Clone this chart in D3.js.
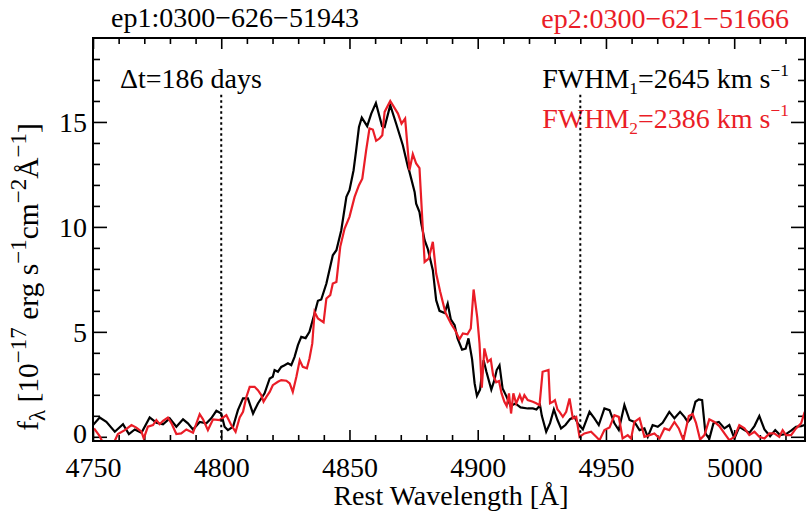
<!DOCTYPE html>
<html>
<head>
<meta charset="utf-8">
<script src="https://cdn.jsdelivr.net/npm/d3@7"></script>
<style>
  body { margin: 0; background: #ffffff; }
  svg text { font-family: "Liberation Serif", "DejaVu Serif", serif; }
</style>
</head>
<body>
<div id="chart"></div>
<script>
// ep1 : [rest wavelength (A), flux (1e-17 erg/s/cm2/A)]
const ep1 = [
  [4750.0,0.56],[4752.6,0.92],[4755.2,0.71],[4758.5,0.24],[4761.7,0.6],[4764.0,0.13],[4766.3,0.35],[4768.9,0.19],[4772.1,0.92],[4774.7,0.67],
  [4777.3,0.6],[4779.9,0.88],[4782.5,0.48],[4785.1,0.83],[4787.0,0.64],[4789.0,0.35],[4791.6,0.71],[4794.2,0.64],[4796.1,0.88],[4798.1,1.24],
  [4800.0,1.11],[4801.3,0.48],[4802.6,0.32],[4804.6,0.48],[4806.5,1.27],[4808.5,1.83],[4810.4,1.83],[4812.4,1.11],[4814.3,1.59],[4816.9,2.07],
  [4818.9,2.78],[4820.1,2.86],[4820.8,3.18],[4822.1,3.1],[4823.4,3.33],[4824.7,3.41],[4826.0,3.5],[4827.3,3.41],[4828.6,3.81],[4829.9,4.37],
  [4831.2,4.76],[4832.9,4.7],[4834.4,5.0],[4836.4,5.88],[4837.7,6.48],[4839.0,6.54],[4841.0,7.3],[4843.5,8.65],[4844.9,8.89],[4846.8,9.84],
  [4848.8,11.43],[4850.0,11.75],[4851.6,12.7],[4852.6,13.65],[4853.7,14.76],[4854.8,15.21],[4856.9,14.8],[4858.5,15.4],[4860.3,15.9],[4862.7,14.8],
  [4863.7,14.76],[4865.9,15.8],[4868.3,14.88],[4870.8,13.89],[4872.8,12.86],[4873.4,12.62],[4875.4,11.67],[4876.0,11.11],[4877.3,10.71],[4878.0,10.16],
  [4879.3,9.37],[4880.5,8.97],[4882.5,7.94],[4883.8,6.51],[4885.1,6.0],[4887.1,5.9],[4888.3,6.35],[4889.5,5.6],[4891.0,5.32],[4892.1,4.7],
  [4893.9,4.15],[4895.3,4.2],[4896.4,4.69],[4897.8,3.7],[4898.8,2.54],[4899.7,1.95],[4900.9,2.25],[4902.3,3.65],[4903.4,3.1],[4905.3,2.25],
  [4906.5,2.7],[4907.4,3.18],[4908.5,3.41],[4909.7,2.3],[4911.1,1.95],[4912.8,1.47],[4914.7,1.59],[4916.7,1.4],[4919.5,1.35],[4921.5,1.35],
  [4922.9,1.3],[4924.3,1.5],[4925.0,1.0],[4926.7,0.24],[4928.2,0.65],[4929.7,1.3],[4931.1,0.8],[4932.5,0.4],[4934.2,0.56],[4936.0,0.84],
  [4937.7,0.95],[4939.0,0.64],[4941.0,0.35],[4943.6,1.19],[4945.5,0.88],[4947.2,0.56],[4949.4,1.35],[4951.4,1.27],[4953.3,0.64],[4955.0,0.32],
  [4957.2,1.51],[4959.2,0.8],[4961.1,0.71],[4963.1,0.32],[4965.0,0.4],[4966.3,0.0],[4968.2,0.56],[4970.2,0.48],[4972.1,0.67],[4974.7,1.19],
  [4976.7,0.88],[4978.9,1.19],[4980.6,0.95],[4981.9,0.71],[4983.2,0.88],[4984.9,1.67],[4986.2,1.78],[4987.5,1.75],[4988.8,0.16],[4990.3,-0.1],
  [4991.9,0.64],[4994.0,0.71],[4996.2,0.4],[4998.1,0.56],[5000.1,-0.08],[5002.0,0.48],[5004.0,0.32],[5005.9,0.19],[5007.9,0.51],[5009.8,0.99],
  [5011.8,0.35],[5014.0,0.03],[5016.0,0.32],[5017.9,0.08],[5020.2,0.13],[5022.2,0.29],[5024.1,0.48],[5026.1,0.51],[5027.5,0.56]
];

// ep2
const ep2 = [
  [4750.4,0.4],[4752.6,0.03],[4753.9,-0.3],[4755.9,-0.6],[4758.5,-0.19],[4759.7,0.13],[4762.4,0.32],[4765.0,0.56],[4766.9,0.44],[4768.9,0.24],
  [4769.8,-0.08],[4771.4,0.48],[4773.4,0.56],[4774.7,0.8],[4776.0,0.6],[4777.3,0.76],[4779.2,0.92],[4780.6,0.64],[4782.5,0.13],[4784.4,0.16],
  [4786.4,0.35],[4789.0,0.19],[4791.6,1.08],[4792.9,0.83],[4794.8,0.32],[4796.8,0.83],[4799.4,0.8],[4802.0,1.03],[4803.9,0.56],[4805.6,0.24],
  [4807.2,0.92],[4808.5,1.19],[4809.8,1.9],[4811.1,2.38],[4813.0,2.38],[4814.3,2.22],[4815.6,1.99],[4816.5,1.67],[4817.6,1.9],[4818.9,2.14],
  [4820.1,2.46],[4822.1,2.62],[4823.4,2.7],[4825.4,2.67],[4826.7,2.54],[4827.9,2.14],[4829.3,2.86],[4830.6,3.65],[4831.8,3.33],[4833.4,3.26],
  [4834.4,3.73],[4835.5,4.45],[4836.4,5.95],[4837.7,5.64],[4839.9,5.45],[4841.0,6.59],[4842.5,6.75],[4843.5,7.3],[4844.9,7.38],[4846.4,9.05],
  [4848.1,9.92],[4850.0,10.48],[4852.0,11.43],[4853.7,11.99],[4855.0,12.3],[4856.5,13.65],[4857.8,14.69],[4859.1,14.64],[4860.4,14.1],[4861.7,14.21],
  [4862.8,14.37],[4863.7,15.48],[4865.9,16.0],[4868.9,15.4],[4870.3,14.92],[4871.7,15.16],[4873.4,12.7],[4874.7,13.47],[4876.0,13.02],[4877.3,12.8],
  [4879.3,8.33],[4880.9,8.49],[4882.5,9.29],[4883.8,7.78],[4885.4,6.9],[4887.4,5.92],[4889.7,5.36],[4891.2,5.08],[4892.9,4.65],[4894.2,4.92],
  [4896.0,4.88],[4897.3,5.16],[4898.4,7.02],[4899.8,5.7],[4900.7,4.45],[4901.6,2.34],[4902.6,4.21],[4903.9,3.57],[4905.1,3.69],[4906.0,2.94],
  [4907.2,2.6],[4908.3,2.66],[4909.3,2.07],[4910.4,1.67],[4911.3,1.47],[4912.2,2.07],[4913.0,1.11],[4913.9,2.07],[4915.0,1.59],[4916.4,1.99],
  [4917.3,1.7],[4918.2,1.99],[4919.5,1.75],[4921.5,1.67],[4922.8,1.6],[4924.1,1.51],[4925.3,3.1],[4927.6,3.18],[4928.2,1.6],[4929.3,1.67],
  [4930.1,1.75],[4931.1,1.3],[4931.9,1.19],[4933.2,0.95],[4934.5,1.19],[4935.8,1.83],[4937.1,0.88],[4938.4,0.95],[4939.7,0.0],[4941.6,0.16],
  [4944.2,0.24],[4946.2,0.0],[4947.5,-0.16],[4949.4,0.32],[4951.4,0.44],[4953.3,1.03],[4955.0,0.95],[4956.5,-0.08],[4958.5,0.08],[4959.8,-0.08],
  [4961.1,0.71],[4963.1,0.88],[4965.0,0.0],[4967.0,0.08],[4968.9,0.16],[4970.9,-0.08],[4972.8,0.4],[4974.7,0.32],[4976.7,0.71],[4978.4,0.4],
  [4980.2,-0.16],[4982.3,0.99],[4983.8,1.08],[4985.1,0.67],[4986.7,-0.13],[4988.4,0.08],[4990.3,0.83],[4992.3,0.71],[4994.2,0.51],[4996.2,0.16],
  [4998.1,-0.16],[5000.1,0.0],[5002.0,0.56],[5004.0,0.4],[5005.9,0.08],[5007.9,0.24],[5009.8,0.0],[5011.8,-0.08],[5013.7,0.16],[5015.6,0.16],
  [5017.6,0.0],[5018.9,0.32],[5020.2,0.08],[5022.2,0.08],[5024.1,0.4],[5026.1,0.64],[5027.5,1.19]
];

const xMajor = [4750, 4800, 4850, 4900, 4950, 5000];
const xMinor = [4760,4770,4780,4790,4810,4820,4830,4840,4860,4870,4880,4890,4910,4920,4930,4940,4960,4970,4980,4990,5010,5020];
const yMajor = [0, 5, 10, 15];
const yMinor = [1,2,3,4,6,7,8,9,11,12,13,14,16,17,18];
const markerWave = [4800, 4940];   // dotted window
const markerTop = 16.3;

const black = "#000000";
const red = "#ea1d27";
const fs = 28;

const W = 806, H = 512;
const pLeft = 93, pTop = 38, pRight = 805, pBottom = 441;

const svg = d3.select("#chart").append("svg")
  .attr("width", W).attr("height", H);

const x = d3.scaleLinear().domain([4750, 5028]).range([pLeft, 806]);
const y = d3.scaleLinear().domain([-0.2, 19]).range([pBottom, pTop]);

svg.append("defs").append("clipPath").attr("id", "plot")
  .append("rect").attr("x", pLeft).attr("y", pTop)
  .attr("width", pRight - pLeft).attr("height", pBottom - pTop);

// ticks
function styleAxis(g) {
  g.select(".domain").remove();
  g.selectAll(".tick line").attr("stroke", black).attr("stroke-width", 1.6);
  g.selectAll(".tick text").style("font-size", fs + "px").attr("fill", black);
}

svg.append("g").attr("transform", `translate(0,${pBottom})`)
  .call(d3.axisBottom(x).tickValues(xMajor).tickSize(-11).tickFormat(d3.format("d")))
  .call(styleAxis)
  .call(g => g.selectAll(".tick text").attr("y", 36).attr("dy", null));
svg.append("g").attr("transform", `translate(0,${pBottom})`)
  .call(d3.axisBottom(x).tickValues(xMinor).tickSize(-6).tickFormat(""))
  .call(styleAxis);
svg.append("g").attr("transform", `translate(0,${pTop})`)
  .call(d3.axisTop(x).tickValues(xMajor).tickSize(-11).tickFormat(""))
  .call(styleAxis);
svg.append("g").attr("transform", `translate(0,${pTop})`)
  .call(d3.axisTop(x).tickValues(xMinor).tickSize(-6).tickFormat(""))
  .call(styleAxis);

svg.append("g").attr("transform", `translate(${pLeft},0)`)
  .call(d3.axisLeft(y).tickValues(yMajor).tickSize(-14))
  .call(styleAxis)
  .call(g => g.selectAll(".tick text")
    .attr("x", -6).attr("dy", null)
    .attr("y", d => Math.min(9.5, pBottom + 1 - y(d))));
svg.append("g").attr("transform", `translate(${pLeft},0)`)
  .call(d3.axisLeft(y).tickValues(yMinor).tickSize(-7).tickFormat(""))
  .call(styleAxis);
svg.append("g").attr("transform", `translate(${pRight},0)`)
  .call(d3.axisRight(y).tickValues(yMajor).tickSize(-14).tickFormat(""))
  .call(styleAxis);
svg.append("g").attr("transform", `translate(${pRight},0)`)
  .call(d3.axisRight(y).tickValues(yMinor).tickSize(-7).tickFormat(""))
  .call(styleAxis);

// spectra
const line = d3.line().x(d => x(d[0])).y(d => y(d[1]));
const plot = svg.append("g").attr("clip-path", "url(#plot)");
plot.append("path").datum(ep1).attr("d", line)
  .attr("fill", "none").attr("stroke", black).attr("stroke-width", 2.2)
  .attr("stroke-linejoin", "miter");
plot.append("path").datum(ep2).attr("d", line)
  .attr("fill", "none").attr("stroke", red).attr("stroke-width", 2.2)
  .attr("stroke-linejoin", "miter");

// frame
svg.append("rect").attr("x", pLeft).attr("y", pTop)
  .attr("width", pRight - pLeft).attr("height", pBottom - pTop)
  .attr("fill", "none").attr("stroke", black).attr("stroke-width", 2);

// rich text helper: parts = [text, "n" | "sup" | "sub"]
function rich(sel, parts, size, small) {
  let off = 0;
  parts.forEach(([s, k]) => {
    const want = k === "sup" ? -0.42 * size : k === "sub" ? 0.22 * size : 0;
    sel.append("tspan")
      .attr("dy", want - off)
      .style("font-size", (k === "n" ? size : size * small) + "px")
      .text(s);
    off = want;
  });
}

// titles
svg.append("text").attr("x", 235).attr("y", 27).attr("text-anchor", "middle")
  .style("font-size", fs + "px").attr("fill", black).text("ep1:0300\u2212626\u221251943");
svg.append("text").attr("x", 789).attr("y", 28).attr("text-anchor", "end")
  .style("font-size", fs + "px").attr("fill", red).text("ep2:0300\u2212621\u221251666");

svg.append("text").attr("x", 120).attr("y", 88)
  .style("font-size", fs + "px").attr("fill", black).text("\u0394t=186 days");

const fw1 = svg.append("text").attr("x", 789).attr("y", 88).attr("text-anchor", "end").attr("fill", black);
rich(fw1, [["FWHM", "n"], ["1", "sub"], ["=2645 km s", "n"], ["\u22121", "sup"]], fs, 0.62);
const fw2 = svg.append("text").attr("x", 789).attr("y", 128).attr("text-anchor", "end").attr("fill", red);
rich(fw2, [["FWHM", "n"], ["2", "sub"], ["=2386 km s", "n"], ["\u22121", "sup"]], fs, 0.62);

// dotted window lines
svg.selectAll(".marker").data(markerWave).enter().append("line")
  .attr("class", "marker")
  .attr("x1", d => x(d)).attr("x2", d => x(d))
  .attr("y1", y(markerTop)).attr("y2", pBottom)
  .attr("stroke", black).attr("stroke-width", 2)
  .attr("stroke-dasharray", "2.5,3");

// axis titles
svg.append("text").attr("x", 451).attr("y", 505).attr("text-anchor", "middle")
  .style("font-size", fs + "px").attr("fill", black).text("Rest Wavelength [\u00c5]");

const yl = svg.append("text").attr("transform", "translate(38,277) rotate(-90)")
  .attr("text-anchor", "middle").attr("fill", black);
rich(yl, [["f", "n"], ["\u03bb", "sub"], [" [10", "n"], ["\u221217", "sup"], [" erg s", "n"], ["\u22121", "sup"],
  ["cm", "n"], ["\u22122", "sup"], ["\u00c5", "n"], ["\u22121", "sup"], ["]", "n"]], 29.5, 0.78);
</script>
</body>
</html>
